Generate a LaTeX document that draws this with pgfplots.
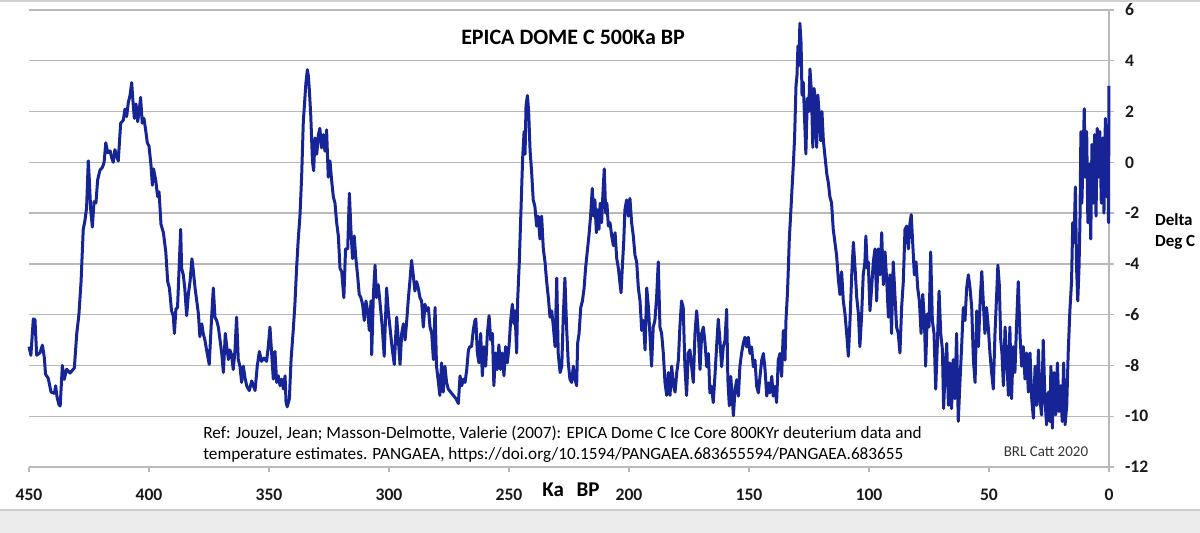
\documentclass[border=0pt]{standalone}
\usepackage{pgfplots}
\pgfplotsset{compat=1.18}
\usepackage{fontspec}
\setmainfont{Carlito}
\definecolor{curve}{RGB}{22,36,150}
\definecolor{gridc}{RGB}{185,185,185}
\definecolor{band}{RGB}{236,236,236}
\pgfplotstableread{
ka val
450 -7.26
449.2 -7.6
448.2 -6.17
447.5 -6.2
446.8 -7.6
445.4 -7.5
444.4 -7.2
443.6 -7.7
443.1 -8.35
442 -8.5
440.8 -9.05
439.4 -9.1
438.9 -8.8
438.3 -9.25
437.5 -9.55
437 -9.6
436.1 -8.0
435.3 -8.55
434.3 -8.15
432.9 -8.3
431.1 -8.1
430.1 -6.75
429.2 -6.0
428.3 -4.7
427.4 -2.65
426.7 -2.3
426 -1.8
425.3 0.06
424.9 -0.6
424.3 -1.85
423.6 -2.55
422.9 -1.55
422.1 -1.6
421.4 -0.7
420.4 -0.3
419.4 -0.2
418.7 0
418 0.77
417.2 0.38
416.2 0.45
415.6 0.2
414.9 0
414.2 0.5
413.5 0.25
412.8 0.05
411.8 1.54
410.7 1.66
410 2.1
409.3 1.8
408.6 2.37
407.9 2.63
407.2 3.14
406.8 2.56
406.1 1.73
405.4 2.3
404.7 1.6
404 2.1
403.5 2.56
402.8 1.54
402.1 1.73
401.4 1.28
400.7 0.77
400 0.64
399.2 -0.07
398.6 -0.9
398.1 -0.26
397.2 -0.7
396.4 -1.35
395.8 -1.16
395 -2.44
394 -2.77
393 -3.53
392.2 -4.7
391.5 -4.95
390.6 -5.85
389.9 -6.04
389.4 -6.74
388.8 -5.78
388.1 -5.72
387.4 -4.05
386.8 -2.64
386.4 -4.18
385.7 -4.43
385.1 -4.95
384.3 -6.04
383.6 -5.2
382.9 -4.7
382.1 -3.8
381.5 -4.3
380.8 -4.95
380.1 -5.46
379.4 -5.97
378.8 -6.87
378 -6.36
377.4 -6.74
376.7 -7.0
376 -7.39
374.9 -7.96
373.9 -6.1
373.2 -4.95
372.5 -6.1
371.8 -6.23
371.1 -6.49
370.4 -7.0
369.7 -7.51
369 -8.28
368.2 -6.74
367.6 -7.26
366.9 -7.77
366.3 -7.39
365.6 -7.58
364.9 -8.16
364.2 -7.45
363.5 -6.1
362.8 -7.77
362.1 -8.03
361.4 -8.67
360.7 -8.03
360 -8.48
359.3 -8.8
358.2 -8.99
357.2 -8.61
355.8 -8.99
354.9 -8.03
354 -7.45
353.1 -7.84
352.1 -7.71
351 -7.84
350.3 -7.26
349.6 -6.49
348.9 -7.51
348.2 -8.54
347.5 -7.45
346.8 -8.67
346.1 -8.41
345.4 -8.8
344.7 -8.54
344 -8.93
343.3 -8.41
342.9 -9.44
342.4 -9.63
341.5 -9.31
340.8 -7.77
339.9 -6.62
339.2 -5.59
338.5 -4.18
337.8 -3.02
337.1 -2.12
336.4 -0.58
335.7 1.6
334.6 3.14
334 3.65
333.6 3.4
333.2 2.88
332.6 1.86
331.9 0.06
331.4 -0.33
330.8 0.96
330.1 0.32
329.4 1.09
328.8 1.34
328.1 0.57
327.4 1.09
326.7 0.44
326 1.28
325.3 -0.58
324.6 0.06
323.9 -0.71
323.2 -1.35
322.5 -1.61
321.8 -2.38
321.1 -2.9
320.4 -4.18
319.7 -4.31
318.8 -5.33
318.1 -3.41
317.2 -3.41
316.5 -1.22
315.8 -2.77
315.2 -3.79
314.5 -2.9
313.8 -3.79
313.1 -4.43
312.4 -5.2
311.7 -5.33
311 -5.59
310.3 -6.23
309.6 -5.46
308.9 -5.85
308.2 -6.62
307.5 -5.46
307.2 -7.58
306.5 -5.2
305.8 -4.05
305.2 -5.33
304.5 -4.82
303.8 -5.46
302.8 -6.49
302 -7.64
301 -4.95
300.3 -5.85
299.6 -6.49
298.6 -7.39
297.8 -7.96
296.8 -6.1
296.1 -7.0
295.4 -7.96
294.7 -6.74
294 -6.36
293.3 -7.0
292.6 -6.23
291.9 -5.33
291.3 -4.7
290.6 -3.86
289.9 -4.43
289.2 -5.07
288.5 -4.7
287.8 -4.95
287.1 -5.33
286.4 -5.46
285.7 -6.49
285 -5.59
284.3 -5.85
283.6 -5.72
282.9 -6.49
282.2 -6.74
281.5 -7.77
280.8 -5.72
280.2 -8.03
279.4 -8.67
278.8 -9.18
278.1 -7.9
277.4 -9.05
276.7 -8.03
276 -8.67
275.3 -8.93
274.3 -9.05
273.2 -9.18
272.1 -9.31
271.1 -9.5
270.4 -8.41
269.7 -8.8
269 -8.54
268.3 -8.67
267.6 -8.16
266.9 -7.39
266.3 -7.26
265.6 -7.26
264.9 -6.62
264.2 -6.23
263.8 -6.17
263.2 -7.51
262.5 -7.9
261.8 -6.74
261.1 -8.41
260.4 -7.26
259.7 -8.03
259 -6.74
258.3 -6.04
257.6 -7.0
256.9 -6.74
256.3 -8.8
255.6 -7.51
254.9 -8.16
254.2 -7.19
253.5 -8.16
252.8 -7.51
252.1 -8.41
251.4 -7.26
250.7 -7.9
250 -7.26
249.3 -6.23
248.6 -5.59
247.9 -6.36
247.5 -5.85
246.8 -7.51
246.4 -5.46
245.7 -3.92
245 -1.87
244.3 0.19
243.7 1.21
243.3 0.32
242.9 2.24
242.3 2.63
241.8 1.98
241.2 0.44
240.6 -0.33
239.9 -1.48
239.2 -1.74
238.5 -2.51
237.8 -2.12
237.1 -3.02
236.4 -2.12
235.7 -3.41
235 -3.92
234.3 -4.7
233.6 -5.33
232.9 -6.1
232.2 -5.85
231.5 -6.49
230.8 -7.26
230.1 -4.56
229.5 -7.51
228.7 -8.28
228 -8.03
227.4 -6.1
226.7 -4.56
226 -6.49
225.3 -7.9
224.6 -8.54
223.9 -8.67
223.2 -8.03
222.5 -8.54
221.8 -8.8
221.4 -7.13
220.8 -6.74
220.1 -5.72
219.4 -5.46
218.7 -4.95
218.1 -4.18
217.4 -3.53
216.7 -2.9
216 -2.12
215.3 -1.03
214.7 -2.12
214.2 -1.48
213.6 -2.77
213.1 -1.87
212.5 -2.64
212 -1.61
211.4 -2.38
210.8 -1.1
210.3 -0.26
209.7 -2.0
209.2 -1.61
208.6 -2.51
207.9 -2.38
207.2 -2.9
206.5 -3.28
205.8 -2.77
205.1 -3.79
204.4 -4.18
203.7 -4.82
203.3 -5.14
202.8 -4.18
202.2 -3.15
201.7 -1.87
201 -1.48
200.3 -2.12
199.6 -1.42
198.9 -2.38
198.2 -2.9
197.5 -3.66
196.8 -3.92
196.1 -4.95
195.4 -5.46
194.7 -6.62
194 -6.23
193.3 -7.39
192.6 -4.95
191.9 -5.72
191.3 -6.74
190.6 -8.03
189.9 -6.49
189.2 -6.23
188.5 -5.33
187.8 -3.92
187.1 -6.49
186.4 -6.74
185.7 -7.51
185 -8.67
184.3 -9.18
183.6 -8.28
182.9 -9.18
182.2 -8.03
181.5 -8.8
180.8 -9.05
180.1 -8.28
179.4 -7.77
178.8 -6.49
178.1 -5.46
177.4 -5.72
176.7 -8.03
176 -9.18
175.3 -7.51
174.6 -7.39
173.9 -8.03
173.2 -8.67
172.5 -6.74
171.8 -5.85
171.1 -6.74
170.4 -8.16
169.7 -6.74
169 -6.49
168.3 -7.14
167.6 -8.05
166.9 -7.53
166.3 -9.08
165.6 -8.82
164.9 -9.46
164.2 -8.43
163.5 -7.27
162.8 -6.18
162.1 -7.01
161.4 -8.05
160.7 -7.27
160 -7.01
159.3 -5.79
158.8 -8.56
158.2 -9.59
157.6 -8.43
157.1 -9.08
156.5 -9.98
155.8 -8.95
155.1 -8.56
154.4 -9.21
153.8 -8.05
153.1 -7.53
152.4 -7.14
151.7 -6.89
151 -7.27
150.3 -6.89
149.6 -7.53
148.9 -7.27
148.2 -8.05
147.5 -7.79
146.8 -8.82
146.1 -9.08
145.4 -8.43
144.7 -7.79
144 -7.53
143.3 -8.17
142.6 -9.21
141.9 -8.69
141.3 -9.08
140.5 -8.43
139.9 -9.21
139.2 -8.82
138.5 -9.46
137.8 -7.79
137.1 -7.53
136.4 -8.43
135.7 -6.63
135 -7.79
134.6 -6.24
134 -5.21
133.6 -4.18
133.2 -3.02
132.6 -1.99
132.1 -1.09
131.5 -0.06
131 0.97
130.4 3.04
130 3.42
129.6 4.58
129.2 3.81
128.8 5.48
128.3 4.71
127.9 2.65
127.4 3.16
126.8 1.62
126.3 0.33
125.7 2.52
125.1 2.0
124.6 3.68
124 2.78
123.4 0.59
122.9 2.91
122.4 2.52
121.8 0.59
121.3 2.65
120.7 1.75
120.1 0.85
119.6 2.0
119 0.85
118.3 0.2
117.6 -0.44
116.9 -0.83
116.3 -1.35
115.6 -1.6
114.9 -2.63
114.2 -3.15
113.5 -3.66
112.8 -4.57
112.1 -5.21
111.4 -4.31
110.7 -5.46
110 -5.97
109.3 -6.74
108.6 -7.64
107.9 -6.23
107.2 -4.43
106.5 -3.15
105.8 -4.18
105.1 -5.33
104.4 -5.97
103.8 -7.26
103.1 -6.1
102.4 -4.43
101.7 -3.92
101.3 -2.9
100.7 -4.18
100.3 -3.92
99.6 -5.85
98.9 -4.95
98.2 -3.92
97.5 -3.41
96.8 -5.46
96.1 -3.41
95.4 -4.43
94.7 -2.77
94 -4.82
93.3 -3.53
92.6 -4.7
91.9 -6.1
91.3 -4.43
90.6 -6.74
89.9 -3.92
89.2 -5.2
88.5 -6.49
87.8 -6.74
87.1 -7.51
86.4 -5.72
85.7 -4.7
85 -2.64
84.3 -2.51
83.6 -3.41
82.9 -2.38
82.4 -2.06
81.8 -3.15
81.1 -4.43
80.4 -3.92
79.7 -4.95
79 -5.46
78.3 -6.74
77.6 -5.2
76.9 -6.23
76.4 -8.03
75.7 -5.97
75 -6.49
74.3 -3.53
73.6 -6.23
72.9 -6.74
72.2 -8.93
71.5 -7.13
70.8 -5.07
70.1 -6.74
69.4 -7.39
68.9 -9.7
68.3 -8.28
67.6 -7.13
66.9 -9.57
66.3 -7.9
65.6 -9.7
64.9 -7.77
64.2 -9.31
63.5 -6.74
62.8 -10.2
62.1 -8.67
61.4 -7.26
60.7 -5.72
60 -6.23
59.3 -4.95
58.6 -4.43
57.9 -4.95
57.2 -5.72
56.5 -7.77
55.8 -8.67
55.1 -5.85
54.4 -7.26
53.7 -5.46
53 -4.3
52.4 -5.46
51.7 -6.74
51 -5.72
50.3 -6.49
49.6 -7.51
48.9 -8.28
48.2 -8.93
47.5 -6.74
46.8 -5.2
46.3 -4.05
45.7 -4.82
45.1 -7.0
44.6 -7.51
44 -8.8
43.3 -6.49
42.6 -7.77
41.9 -9.18
41.3 -6.49
40.6 -9.31
39.9 -7.26
39.2 -8.28
38.5 -6.36
37.8 -4.7
37.1 -6.74
36.4 -8.03
35.7 -7.26
35 -8.54
34.3 -7.51
33.6 -9.05
32.9 -7.51
32.2 -9.31
31.5 -10.08
30.8 -8.03
30.1 -9.57
29.4 -7.39
28.8 -9.31
28.1 -9.95
27.4 -7.0
26.7 -9.31
26 -10.34
25.3 -9.05
24.6 -10.21
24.2 -8.03
23.6 -10.47
22.9 -8.28
22.2 -9.95
21.5 -7.9
20.8 -9.82
20.1 -8.8
19.5 -10.21
18.9 -7.9
18.3 -10.34
17.6 -9.57
17 -7.51
16.3 -5.85
15.6 -4.7
15.1 -2.38
14.6 -3.15
14 -0.97
13.5 -4.18
13 -5.46
12.5 -4.18
12.1 -2.38
11.7 1.21
11.3 -1.61
10.7 0.57
10.3 2.11
9.9 -0.58
9.3 1.21
8.8 -2.38
8.2 -0.07
7.6 -3.02
7.1 0.7
6.5 -1.61
6 1.09
5.4 -2.12
4.9 1.34
4.3 -0.58
3.8 1.21
3.2 -1.61
2.6 0.96
2.1 -2.0
1.5 1.73
1 -1.35
0.6 1.47
0.2 -2.38
0 3.01
}\epica
\begin{document}
\begin{tikzpicture}
\useasboundingbox (-14.5pt,-33pt) rectangle (585.5pt,233.5pt);
\fill[band] (-14.5pt,-33pt) rectangle (585.5pt,-21.5pt);
\draw[black!20, line width=0.6pt] (-14.5pt,-21.5pt) -- (585.5pt,-21.5pt);
\draw[black!18, line width=0.8pt] (-14.5pt,233.1pt) -- (585.5pt,233.1pt);
\begin{axis}[
  at={(0,0)}, anchor=south west,
  scale only axis, width=540pt, height=228.5pt,
  x dir=reverse, xmin=0, xmax=450, ymin=-12, ymax=6,
  enlargelimits=false, clip=false,
  axis x line=bottom, axis y line=right,
  axis line style={gridc, line width=0.7pt, -},
  xtick={0,50,...,450}, ytick={-12,-10,...,6},
  ymajorgrids, grid style={gridc, line width=0.7pt},
  tick align=outside, major tick length=2.5pt,
  tick style={gridc, line width=0.7pt},
  /pgf/number format/assume math mode=true,
  ticklabel style={font=\bfseries\fontsize{8.8}{10}\selectfont, text=black!90},
  xticklabel style={yshift=-5pt},
  yticklabel style={xshift=2pt},
  every axis x label/.style={at={(axis cs:224.2,-12)}, anchor=center, yshift=-11.5pt,
    font=\bfseries\fontsize{10.5}{12}\selectfont},
  every axis y label/.style={at={(axis cs:0,-2.74)}, anchor=west, xshift=19.5pt,
    align=left, font=\bfseries\fontsize{8.5}{10.5}\selectfont},
  xlabel={Ka\hspace{0.6em}BP},
  ylabel={Delta\\Deg C},
]
\addplot[curve, line width=1.5pt, line join=round] table[x=ka, y=val] {\epica};
\node[anchor=base, font=\bfseries\fontsize{11}{13}\selectfont] at (axis cs:223.3,4.66) {EPICA DOME C 500Ka BP};
\node[anchor=base west, inner sep=0pt, font=\fontsize{8.6}{10}\selectfont] at (axis cs:377.5,-10.89) {Ref: Jouzel, Jean; Masson-Delmotte, Valerie (2007): EPICA Dome C Ice Core 800KYr deuterium data and};
\node[anchor=base west, inner sep=0pt, font=\fontsize{8.6}{10}\selectfont] at (axis cs:377.5,-11.72) {temperature estimates. PANGAEA, https://doi.org/10.1594/PANGAEA.683655594/PANGAEA.683655};
\node[anchor=base, inner sep=0pt, font=\fontsize{7.5}{9}\selectfont, text=black!80] at (axis cs:26.25,-11.6) {BRL Catt 2020};
\end{axis}
\end{tikzpicture}
\end{document}
